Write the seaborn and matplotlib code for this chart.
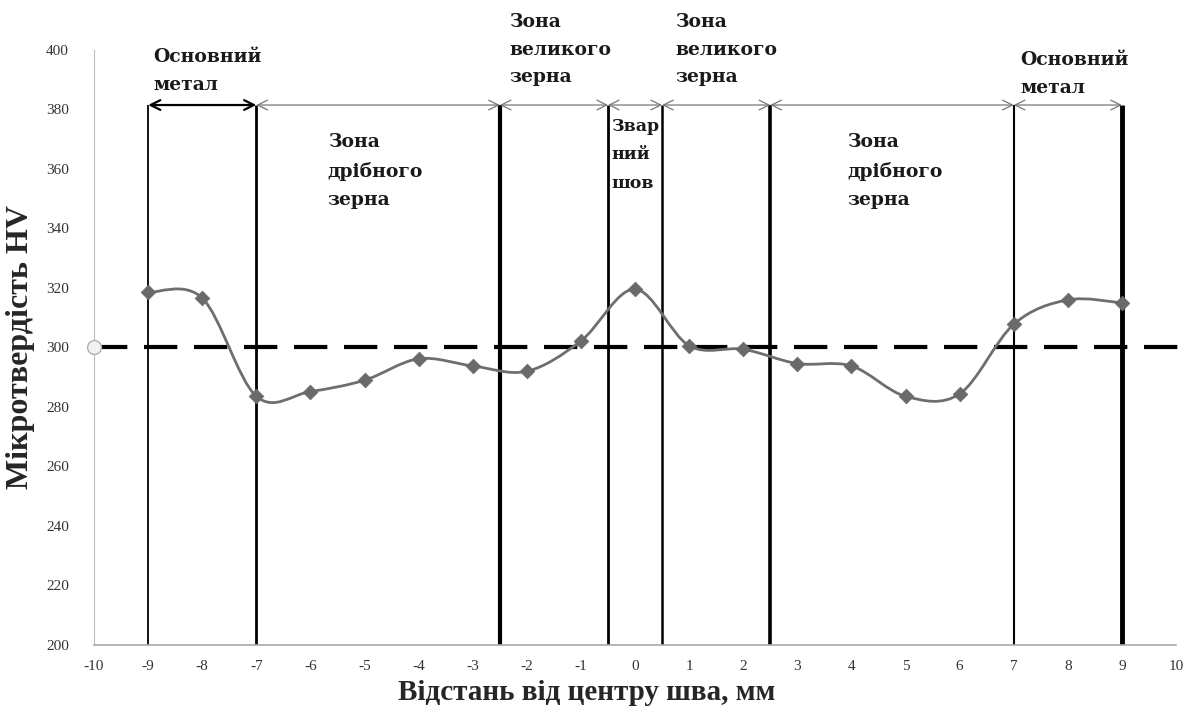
import numpy as np
import matplotlib
matplotlib.use('Agg')
import matplotlib.pyplot as plt
import seaborn as sns
import pandas as pd
from matplotlib.path import Path
from matplotlib.patches import PathPatch

# --- Data --- #
distance_mm = [-9, -8, -7, -6, -5, -4, -3, -2, -1, 0, 1, 2, 3, 4, 5, 6, 7, 8, 9]
hardness_hv = [318.5, 316.6, 283.6, 285.2, 289.0, 296.2, 293.8, 292.0, 302.2, 319.6,
               300.6, 299.4, 294.6, 293.8, 283.6, 284.4, 307.8, 316.0, 315.0]
reference_hv = 300
zone_bounds = [-9, -7, -2.5, -0.5, 0.5, 2.5, 7, 9]
zone_labels = ['Основний\nметал', 'Зона\nдрібного\nзерна', 'Зона\nвеликого\nзерна',
               'Звар\nний\nшов', 'Зона\nвеликого\nзерна', 'Зона\nдрібного\nзерна',
               'Основний\nметал']
x_ticks = list(range(-10, 11))
y_ticks = list(range(200, 401, 20))

df = pd.DataFrame({'x': distance_mm, 'hv': hardness_hv})

# --- Style --- #
sns.set_style('white')
plt.rcParams['font.family'] = ['Liberation Serif', 'DejaVu Serif']
plt.rcParams['axes.unicode_minus'] = False

fig = plt.figure(figsize=(11.92, 7.13), dpi=100)
ax = fig.add_axes([0.0789, 0.0954, 0.9077, 0.8345])

# smoothed line (Excel-style bezier through the measured points)
pts = np.column_stack([distance_mm, hardness_hv])
verts = [tuple(pts[0])]
codes = [Path.MOVETO]
for i in range(len(pts) - 1):
    p0 = pts[i - 1] if i > 0 else pts[i]
    p1, p2 = pts[i], pts[i + 1]
    p3 = pts[i + 2] if i + 2 < len(pts) else pts[i + 1]
    c1 = p1 + (p2 - p0) / 6
    c2 = p2 - (p3 - p1) / 6
    verts += [tuple(c1), tuple(c2), tuple(p2)]
    codes += [Path.CURVE4] * 3
ax.add_patch(PathPatch(Path(verts, codes), fill=False, edgecolor='#6e6e6e', lw=2, zorder=3))
sns.scatterplot(data=df, x='x', y='hv', marker='D', s=55, color='#6a6a6a',
                edgecolor='#6a6a6a', ax=ax, zorder=4)

# reference line at 300 HV
ax.plot([-10, 10.3], [reference_hv, reference_hv], color='black', lw=3,
        dashes=(8, 4), clip_on=False, zorder=2)
ax.plot([-10], [reference_hv], marker='o', ms=10, mfc='#f2f2f2', mec='#b0b0b0',
        clip_on=False, zorder=5)

# zone boundaries
top = 381.5
widths = [1.3, 2.0, 3.0, 2.0, 1.8, 2.6, 1.5, 3.5]
for xb, w in zip(zone_bounds, widths):
    ax.plot([xb, xb], [200, top], color='black', lw=w, zorder=2, solid_capstyle='butt')

for i in range(len(zone_bounds) - 1):
    col = 'black' if i == 0 else '#777777'
    ax.annotate('', xy=(zone_bounds[i], top), xytext=(zone_bounds[i + 1], top),
                arrowprops=dict(arrowstyle='<->,head_length=0.5,head_width=0.25',
                                color=col, lw=1.6 if i == 0 else 0.9,
                                shrinkA=0, shrinkB=0, mutation_scale=14))

# zone labels: x, top y, font size, line spacing
label_pos = [(-8.9, 400.5, 13.5, 1.7), (-5.68, 372, 13.5, 1.7), (-2.32, 412.5, 13.5, 1.7),
             (-0.44, 377, 12.5, 1.85), (0.74, 412.5, 13.5, 1.7), (3.92, 372, 13.5, 1.7),
             (7.12, 399.5, 13.5, 1.7)]
for (lx, ly, fs, ls), txt in zip(label_pos, zone_labels):
    ax.text(lx, ly, txt, ha='left', va='top', fontsize=fs, fontweight='bold',
            family='DejaVu Serif', linespacing=ls, color='#1a1a1a', clip_on=False)

# axes
ax.set_xlim(-10, 10)
ax.set_ylim(200, 400)
ax.set_xticks(x_ticks)
ax.set_yticks(y_ticks)
ax.tick_params(axis='x', length=5, color='#999999', labelsize=11, pad=6)
ax.tick_params(axis='y', length=0, labelsize=11, pad=18)
ax.tick_params(labelcolor='#333333')
sns.despine(ax=ax, top=True, right=True)
ax.spines['left'].set_color('#bbbbbb')
ax.spines['bottom'].set_color('#aaaaaa')
ax.spines['bottom'].set_linewidth(1.2)
ax.set_xlabel('Відстань від центру шва, мм', fontsize=21, fontweight='bold')
ax.xaxis.set_label_coords(0.455, -0.058)
ax.set_ylabel('Мікротвердість HV', fontsize=23, fontweight='bold', labelpad=8)

fig.savefig('out.png', dpi=100)
